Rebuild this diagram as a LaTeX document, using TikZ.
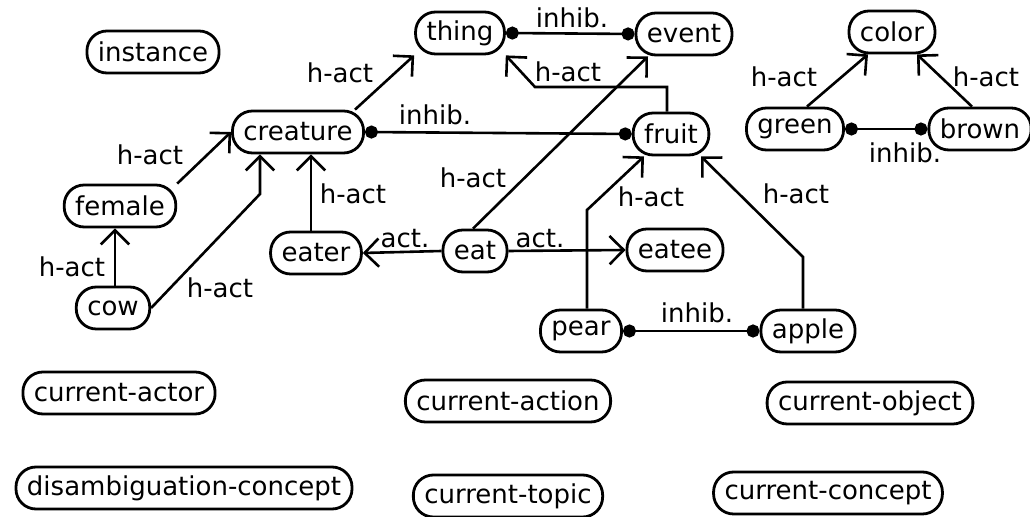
\documentclass[tikz,border=0pt]{standalone}
\usepackage{fontspec}
\setmainfont{DejaVu Sans}
\usetikzlibrary{arrows.meta,calc}
\tikzset{
  concept/.style={draw, line width=1.4pt, rounded corners=10pt, inner xsep=5.5pt, inner ysep=0pt, minimum height=21pt},
  lbl/.style={inner sep=0pt},
  link/.style={line width=1.3pt},
  hact/.style={link, -{Straight Barb[angle=90:10pt]}},
  actlink/.style={link, -{Straight Barb[angle=90:10pt]}},
  inhib/.style={link, {Circle[length=6.5pt]}-{Circle[length=6.5pt]}},
}
\begin{document}
\begin{tikzpicture}[x=0.5pt, y=-0.5pt, font=\fontsize{13}{15}\selectfont]
\useasboundingbox (0,0) rectangle (1030,517);
% concepts
\node[concept] (instance) at (153,52) {instance};
\node[concept] (thing) at (460,33) {thing};
\node[concept] (event) at (684,34) {event};
\node[concept] (creature) at (298,132) {creature};
\node[concept] (fruit) at (671,134) {fruit};
\node[concept] (color) at (892,32) {color};
\node[concept] (green) at (795,129) {green};
\node[concept] (brown) at (980,129) {brown};
\node[concept] (female) at (120,206) {female};
\node[concept] (cow) at (113,308) {cow};
\node[concept] (eater) at (316,253) {eater};
\node[concept] (eat) at (475,251) {eat};
\node[concept] (eatee) at (675,250) {eatee};
\node[concept] (pear) at (581,331) {pear};
\node[concept] (apple) at (808,331) {apple};
% registers
\node[concept] (curactor) at (119,393) {current-actor};
\node[concept] (curaction) at (508,401) {current-action};
\node[concept] (curobject) at (870,403) {current-object};
\node[concept] (disamb) at (184,488) {disambiguation-concept};
\node[concept] (curtopic) at (508,496) {current-topic};
\node[concept] (curconcept) at (828,493) {current-concept};
% bends
\coordinate (fbend) at (535,87);
\coordinate (cbend) at (260,194);
\coordinate (pbend) at (587,210);
\coordinate (abend) at (803,257);
% links
\draw[hact] (creature.north -| 355,0) -- (thing.south west);
\draw[inhib] (thing.east) -- (event.west);
\draw[hact] (fruit.north -| 667,0) |- (fbend) -- (thing.south east);
\draw[hact] (eat.north -| 473,0) -- (event.south -| 648,0);
\draw[inhib] (creature.east) -- (fruit.west);
\draw[hact] (female.north east) -- (creature.west);
\draw[hact] (cow.east) -- (cbend) -- (creature.south -| cbend);
\draw[hact] (eater.north -| 311,0) -- (creature.south -| 311,0);
\draw[hact] (cow.north -| 115,0) -- (female.south -| 115,0);
\draw[actlink] (eat.west) -- (eater.east);
\draw[actlink] (eat.east) -- (eatee.west);
\draw[hact] (pear.north -| pbend) -- (pbend) -- (fruit.south -| 644,0);
\draw[hact] (apple.north -| abend) -- (abend) -- (fruit.south -| 701,0);
\draw[inhib] (pear.east) -- (apple.west);
\draw[hact] (green.north -| 807,0) -- (color.south -| 868,0);
\draw[hact] (brown.north -| 972,0) -- (color.south -| 917,0);
\draw[inhib] (green.east) -- (brown.west);
% labels
\node[lbl] (l1) at (340,73) {h-act};
\node[lbl] (l2) at (572,18) {inhib.};
\node[lbl] (l3) at (568,72) {h-act};
\node[lbl] (l4) at (435,115) {inhib.};
\node[lbl] (l5) at (473,178) {h-act};
\node[lbl] (l6) at (150,155) {h-act};
\node[lbl] (l7) at (353,194) {h-act};
\node[lbl] (l8) at (72,267) {h-act};
\node[lbl] (l9) at (220,288) {h-act};
\node[lbl] (l10) at (405,239) {act.};
\node[lbl] (l11) at (540,239) {act.};
\node[lbl] (l12) at (651,197) {h-act};
\node[lbl] (l13) at (796,194) {h-act};
\node[lbl] (l14) at (697,313) {inhib.};
\node[lbl] (l15) at (784,77) {h-act};
\node[lbl] (l16) at (986,77) {h-act};
\node[lbl] (l17) at (905,153) {inhib.};
\end{tikzpicture}
\end{document}
